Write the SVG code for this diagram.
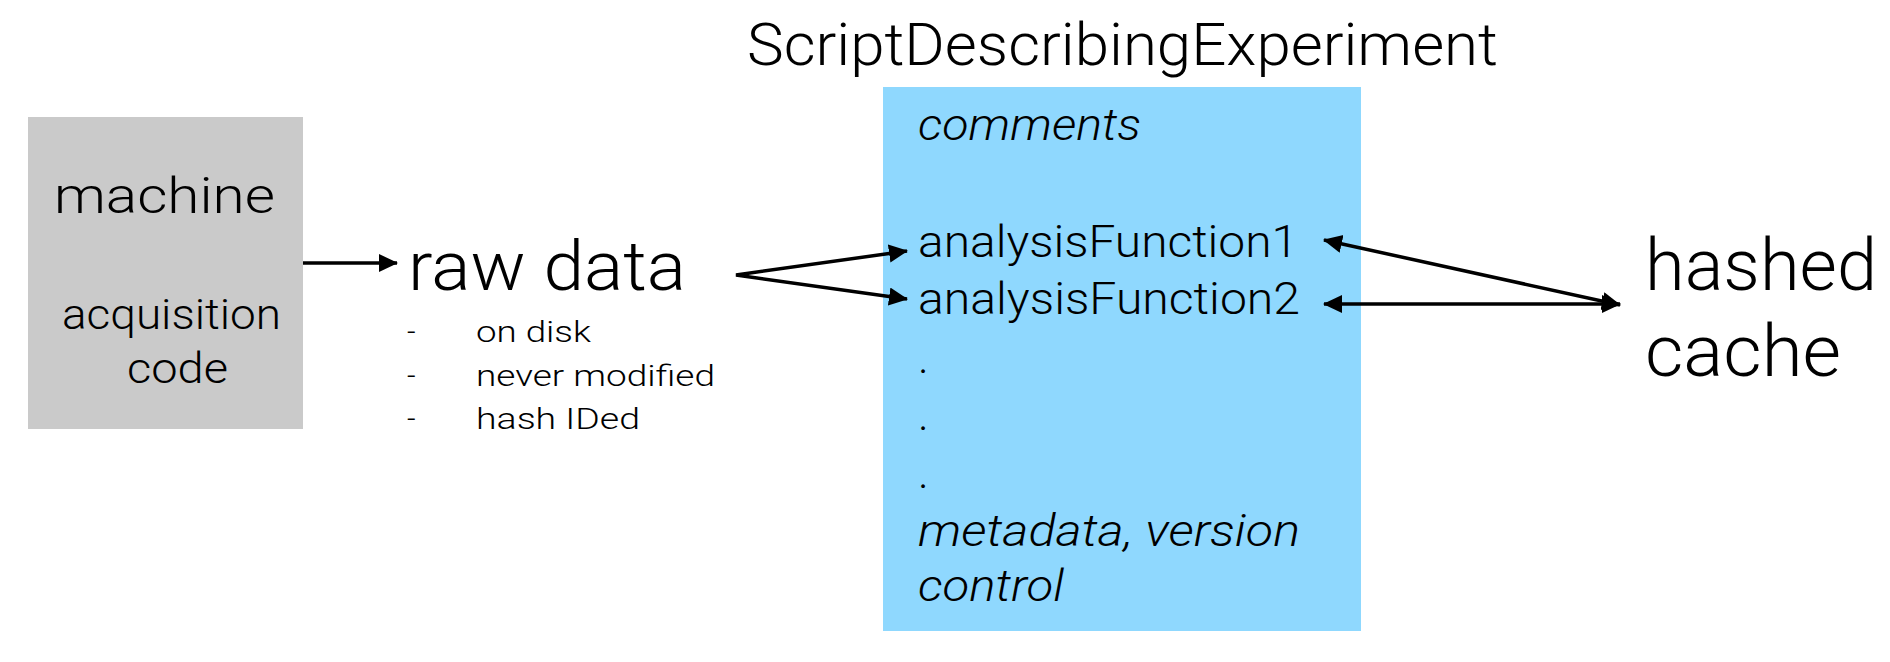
<svg xmlns="http://www.w3.org/2000/svg" width="1890" height="662" viewBox="0 0 1890 662">
<style>
text{font-family:Roboto,"Liberation Sans",sans-serif;font-weight:300;fill:#000}
.it{font-style:italic}
.c{stroke:#000;stroke-width:3.5;fill:none}
</style>
<defs>
<marker id="ah" markerUnits="userSpaceOnUse" markerWidth="20" markerHeight="20" viewBox="0 0 20 20" refX="18" refY="9" orient="auto-start-reverse">
<path d="M0,0 L19,9 L0,18 z" fill="#000"/>
</marker>
</defs>
<rect width="1890" height="662" fill="#fff"/>
<g id="title"><text x="747" y="65" font-size="60" textLength="751" lengthAdjust="spacingAndGlyphs">ScriptDescribingExperiment</text></g>
<g id="machine">
<rect x="28" y="117" width="275" height="312" fill="#cacaca"/>
<text x="54" y="213" font-size="50" textLength="221" lengthAdjust="spacingAndGlyphs">machine</text>
<text x="62" y="329" font-size="43" textLength="219" lengthAdjust="spacingAndGlyphs">acquisition</text>
<text x="127" y="383" font-size="43" textLength="101" lengthAdjust="spacingAndGlyphs">code</text>
</g>
<g id="rawdata">
<text x="408" y="290" font-size="69" textLength="278" lengthAdjust="spacingAndGlyphs">raw data</text>
<text x="407" y="342" font-size="30">-</text>
<text x="476" y="342" font-size="30" textLength="115" lengthAdjust="spacingAndGlyphs">on disk</text>
<text x="407" y="386" font-size="30">-</text>
<text x="476" y="386" font-size="30" textLength="239" lengthAdjust="spacingAndGlyphs">never modified</text>
<text x="407" y="429" font-size="30">-</text>
<text x="476" y="429" font-size="30" textLength="164" lengthAdjust="spacingAndGlyphs">hash IDed</text>
</g>
<g id="script">
<rect x="883" y="87" width="478" height="544" fill="#8fd8fe"/>
<text class="it" x="918" y="140" font-size="45" textLength="223" lengthAdjust="spacingAndGlyphs">comments</text>
<text x="918" y="257" font-size="45" textLength="380" lengthAdjust="spacingAndGlyphs">analysisFunction1</text>
<text x="918" y="314" font-size="45" textLength="382" lengthAdjust="spacingAndGlyphs">analysisFunction2</text>
<text x="918" y="373" font-size="45">.</text>
<text x="918" y="430" font-size="45">.</text>
<text x="918" y="488" font-size="45">.</text>
<text class="it" x="918" y="546" font-size="45" textLength="382" lengthAdjust="spacingAndGlyphs">metadata, version</text>
<text class="it" x="918" y="601" font-size="45" textLength="146" lengthAdjust="spacingAndGlyphs">control</text>
</g>
<g id="cache">
<text x="1645" y="290" font-size="73" textLength="232" lengthAdjust="spacingAndGlyphs">hashed</text>
<text x="1645" y="376" font-size="73" textLength="196" lengthAdjust="spacingAndGlyphs">cache</text>
</g>
<g id="connectors">
<line class="c" x1="303" y1="263" x2="397" y2="263" marker-end="url(#ah)"/>
<polyline class="c" points="907,251 736,275 907,299" marker-start="url(#ah)" marker-end="url(#ah)"/>
<line class="c" x1="1620" y1="305" x2="1324" y2="240" marker-start="url(#ah)" marker-end="url(#ah)"/>
<line class="c" x1="1324" y1="304" x2="1620" y2="304" marker-start="url(#ah)" marker-end="url(#ah)"/>
</g>
</svg>
